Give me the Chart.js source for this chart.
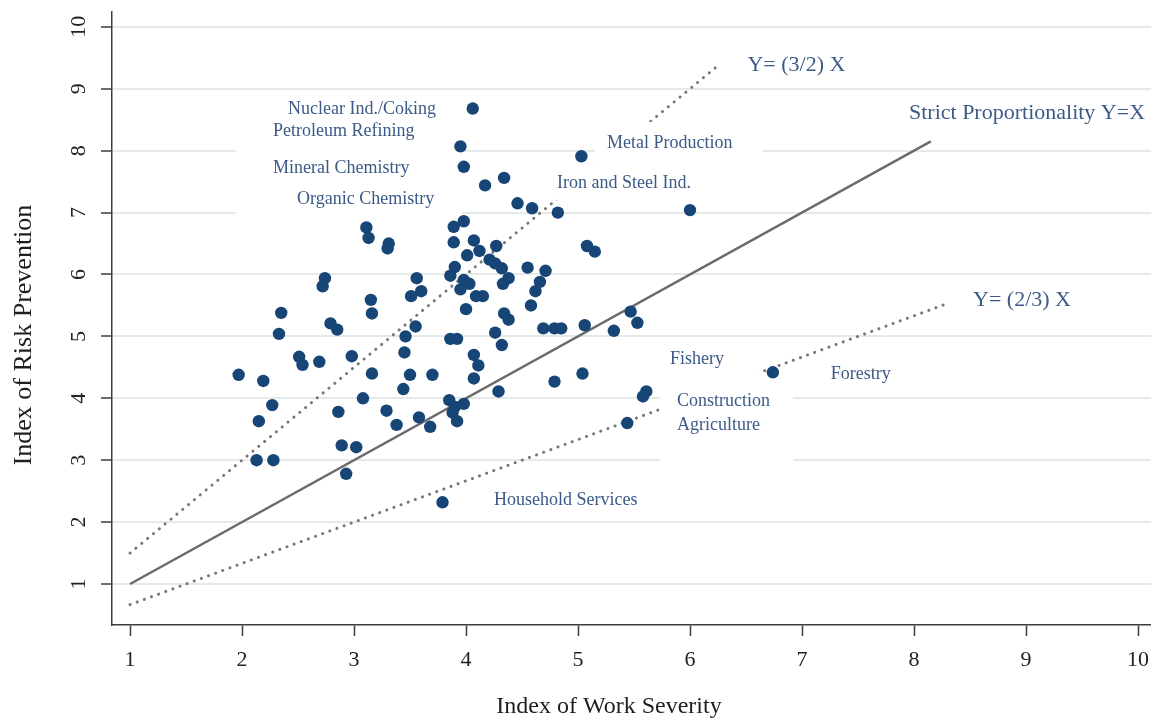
<!DOCTYPE html>
<html>
<head>
<meta charset="utf-8">
<script src="https://cdn.jsdelivr.net/npm/chart.js@4.4.1/dist/chart.umd.min.js"></script>
<style>
  html, body { margin: 0; padding: 0; background: #fff; }
  canvas { display: block; }
</style>
</head>
<body>
<canvas id="severityChart" width="1151" height="720"></canvas>
<script>
// sectors: work severity (x) vs risk prevention (y)
const workSeverity = [
  3.11, 3.13, 3.31, 3.30, 2.74, 2.72, 3.56, 3.51, 3.15, 3.16,
  2.35, 2.33, 2.79, 2.85, 3.55, 3.46, 3.45, 2.51, 2.54, 2.69,
  2.98, 1.97, 2.19, 3.16, 3.50, 3.44, 2.27, 2.15, 3.08, 2.86,
  3.29, 3.38, 3.58, 2.13, 2.28, 2.89, 3.02, 2.93,
  4.06, 3.95, 3.98, 4.34, 4.17, 5.03, 4.46, 4.59, 4.82, 3.98,
  3.89, 3.89, 4.07, 4.12, 4.01, 4.27, 4.21, 4.26, 4.32, 3.90,
  3.86, 4.38, 4.33, 4.55, 4.71, 4.66, 4.62, 4.58, 3.98, 4.03,
  3.95, 4.09, 4.15, 4.00, 4.34, 4.38, 4.26, 4.32, 3.86, 3.92,
  4.69, 4.79, 4.85, 5.08, 5.15, 6.00, 3.60,
  5.06, 5.32, 5.47, 5.53, 4.07, 4.11, 4.07, 3.70, 4.29, 4.79,
  5.04, 5.58, 5.61, 3.85, 3.90, 3.98, 3.88, 3.92, 3.68, 5.44,
  3.79, 6.74
];
const riskPrevention = [
  6.76, 6.59, 6.50, 6.42, 5.94, 5.81, 5.94, 5.65, 5.59, 5.37,
  5.38, 5.04, 5.21, 5.11, 5.16, 5.00, 4.74, 4.67, 4.54, 4.59,
  4.68, 4.38, 4.28, 4.40, 4.38, 4.15, 3.89, 3.63, 4.00, 3.78,
  3.80, 3.57, 3.69, 3.00, 3.00, 3.24, 3.21, 2.78,
  8.68, 8.07, 7.74, 7.56, 7.44, 7.91, 7.15, 7.07, 7.00, 6.86,
  6.77, 6.52, 6.55, 6.38, 6.31, 6.46, 6.24, 6.18, 6.10, 6.12,
  5.98, 5.94, 5.85, 6.11, 6.06, 5.88, 5.73, 5.50, 5.91, 5.85,
  5.76, 5.65, 5.65, 5.44, 5.37, 5.27, 5.06, 4.86, 4.96, 4.96,
  5.13, 5.13, 5.13, 6.46, 6.37, 7.04, 5.73,
  5.18, 5.09, 5.40, 5.22, 4.70, 4.53, 4.32, 4.38, 4.11, 4.27,
  4.40, 4.03, 4.11, 3.97, 3.86, 3.91, 3.77, 3.63, 3.54, 3.60,
  2.32, 4.42
];

// reference lines (end points as drawn)
const identityLineX = [1, 8.15];
const identityLineY = [1, 8.15];
const steepLineX = [1, 6.27];
const steepLineY = [1.5, 9.405];
const flatLineX = [1, 8.27];
const flatLineY = [0.667, 5.513];

const xTicks = [1, 2, 3, 4, 5, 6, 7, 8, 9, 10];
const yTicks = [1, 2, 3, 4, 5, 6, 7, 8, 9, 10];

const sectorLabels = [
  { text: 'Nuclear Ind./Coking', x: 3.732, y: 8.674, align: 'right', big: false },
  { text: 'Petroleum Refining', x: 2.277, y: 8.307, align: 'left', big: false },
  { text: 'Mineral Chemistry', x: 2.277, y: 7.716, align: 'left', big: false },
  { text: 'Organic Chemistry', x: 2.491, y: 7.22, align: 'left', big: false },
  { text: 'Metal Production', x: 5.259, y: 8.12, align: 'left', big: false },
  { text: 'Iron and Steel Ind.', x: 4.813, y: 7.478, align: 'left', big: false },
  { text: 'Y= (3/2) X', x: 6.513, y: 9.385, align: 'left', big: true },
  { text: 'Strict Proportionality Y=X', x: 7.955, y: 8.604, align: 'left', big: true },
  { text: 'Y= (2/3) X', x: 8.527, y: 5.588, align: 'left', big: true },
  { text: 'Fishery', x: 5.821, y: 4.635, align: 'left', big: false },
  { text: 'Forestry', x: 7.256, y: 4.388, align: 'left', big: false },
  { text: 'Construction', x: 5.884, y: 3.956, align: 'left', big: false },
  { text: 'Agriculture', x: 5.884, y: 3.569, align: 'left', big: false },
  { text: 'Household Services', x: 4.25, y: 2.346, align: 'left', big: false }
];

// white label backgrounds that cut grid and guide lines
const labelBoxes = [
  { x0: 1.94, x1: 3.97, y0: 6.88, y1: 8.90 },
  { x0: 5.152, x1: 6.652, y0: 7.769, y1: 8.464 },
  { x0: 4.768, x1: 6.268, y0: 7.204, y1: 7.769 },
  { x0: 5.732, x1: 6.92, y0: 2.922, y1: 4.425 }
];

const toPoints = (xs, ys) => xs.map((x, i) => ({ x: x, y: ys[i] }));

const SERIF = '"Liberation Serif", "Times New Roman", serif';

const annotationPlugin = {
  id: 'sectorAnnotations',
  beforeDatasetDraw(chart, args) {
    if (args.index !== 0) return;
    const ctx = chart.ctx;
    const xs = chart.scales.x, ys = chart.scales.y;
    ctx.save();
    ctx.fillStyle = '#ffffff';
    labelBoxes.forEach(b => {
      const l = xs.getPixelForValue(b.x0), r = xs.getPixelForValue(b.x1);
      const t = ys.getPixelForValue(b.y1), bt = ys.getPixelForValue(b.y0);
      ctx.fillRect(l, t, r - l, bt - t);
    });
    ctx.fillStyle = '#3b5a86';
    ctx.textBaseline = 'middle';
    sectorLabels.forEach(lb => {
      ctx.font = (lb.big ? '22px ' : '18px ') + SERIF;
      ctx.textAlign = lb.align;
      ctx.fillText(lb.text, xs.getPixelForValue(lb.x), ys.getPixelForValue(lb.y));
    });
    ctx.restore();
  },
  afterDraw(chart) {
    const ctx = chart.ctx;
    ctx.save();
    ctx.fillStyle = '#1e1e1e';
    ctx.textAlign = 'center';
    ctx.textBaseline = 'middle';
    ctx.font = '24px ' + SERIF;
    ctx.fillText('Index of Work Severity', 609, 707);
    ctx.translate(24, 335);
    ctx.rotate(-Math.PI / 2);
    ctx.font = '26px ' + SERIF;
    ctx.fillText('Index of Risk Prevention', 0, 0);
    ctx.restore();
  }
};

const chart = new Chart(document.getElementById('severityChart'), {
  type: 'scatter',
  data: {
    datasets: [
      {
        label: 'Sectors',
        data: toPoints(workSeverity, riskPrevention),
        backgroundColor: '#164576',
        borderWidth: 0,
        pointRadius: 6.2,
        pointHoverRadius: 6.2,
        order: 0
      },
      {
        label: 'Y=X',
        data: toPoints(identityLineX, identityLineY),
        showLine: true,
        borderColor: '#6b6b6b',
        borderWidth: 2.5,
        pointRadius: 0,
        order: 1
      },
      {
        label: 'Y=(3/2)X',
        data: toPoints(steepLineX, steepLineY),
        showLine: true,
        borderColor: '#777777',
        borderWidth: 3,
        borderDash: [0.1, 7.5],
        borderCapStyle: 'round',
        pointRadius: 0,
        order: 1
      },
      {
        label: 'Y=(2/3)X',
        data: toPoints(flatLineX, flatLineY),
        showLine: true,
        borderColor: '#777777',
        borderWidth: 3,
        borderDash: [0.1, 7.5],
        borderCapStyle: 'round',
        pointRadius: 0,
        order: 1
      }
    ]
  },
  options: {
    responsive: false,
    animation: false,
    devicePixelRatio: 1,
    layout: { autoPadding: false, padding: { top: 12, right: 0, left: 0, bottom: 0 } },
    plugins: {
      legend: { display: false },
      tooltip: { enabled: false }
    },
    scales: {
      x: {
        type: 'linear',
        min: 0.839,
        max: 10.116,
        afterBuildTicks: scale => { scale.ticks = xTicks.map(v => ({ value: v })); },
        afterFit: scale => {
          scale.height = 95;
          scale.paddingLeft = 0; scale.paddingRight = 0;
        },
        border: { display: true, color: '#3c3c3c', width: 1.5 },
        grid: { drawOnChartArea: false, drawTicks: true, tickLength: 11, tickColor: '#3c3c3c', tickWidth: 1.5 },
        ticks: {
          padding: 11,
          color: '#222',
          font: { family: SERIF, size: 22 },
          maxRotation: 0,
          autoSkip: false
        },
        title: { display: false }
      },
      y: {
        type: 'linear',
        min: 0.338,
        max: 10.24,
        afterBuildTicks: scale => { scale.ticks = yTicks.map(v => ({ value: v })); },
        afterFit: scale => {
          scale.width = 112;
          scale.paddingTop = 0; scale.paddingBottom = 0;
        },
        border: { display: true, color: '#3c3c3c', width: 1.5 },
        grid: { color: '#e4eaea', lineWidth: 2, drawTicks: true, tickLength: 11, tickColor: '#3c3c3c', tickWidth: 1.5 },
        ticks: {
          padding: 11,
          color: '#222',
          font: { family: SERIF, size: 22 },
          minRotation: 90,
          maxRotation: 90,
          crossAlign: 'center',
          autoSkip: false
        },
        title: { display: false }
      }
    }
  },
  plugins: [annotationPlugin]
});
</script>
</body>
</html>
